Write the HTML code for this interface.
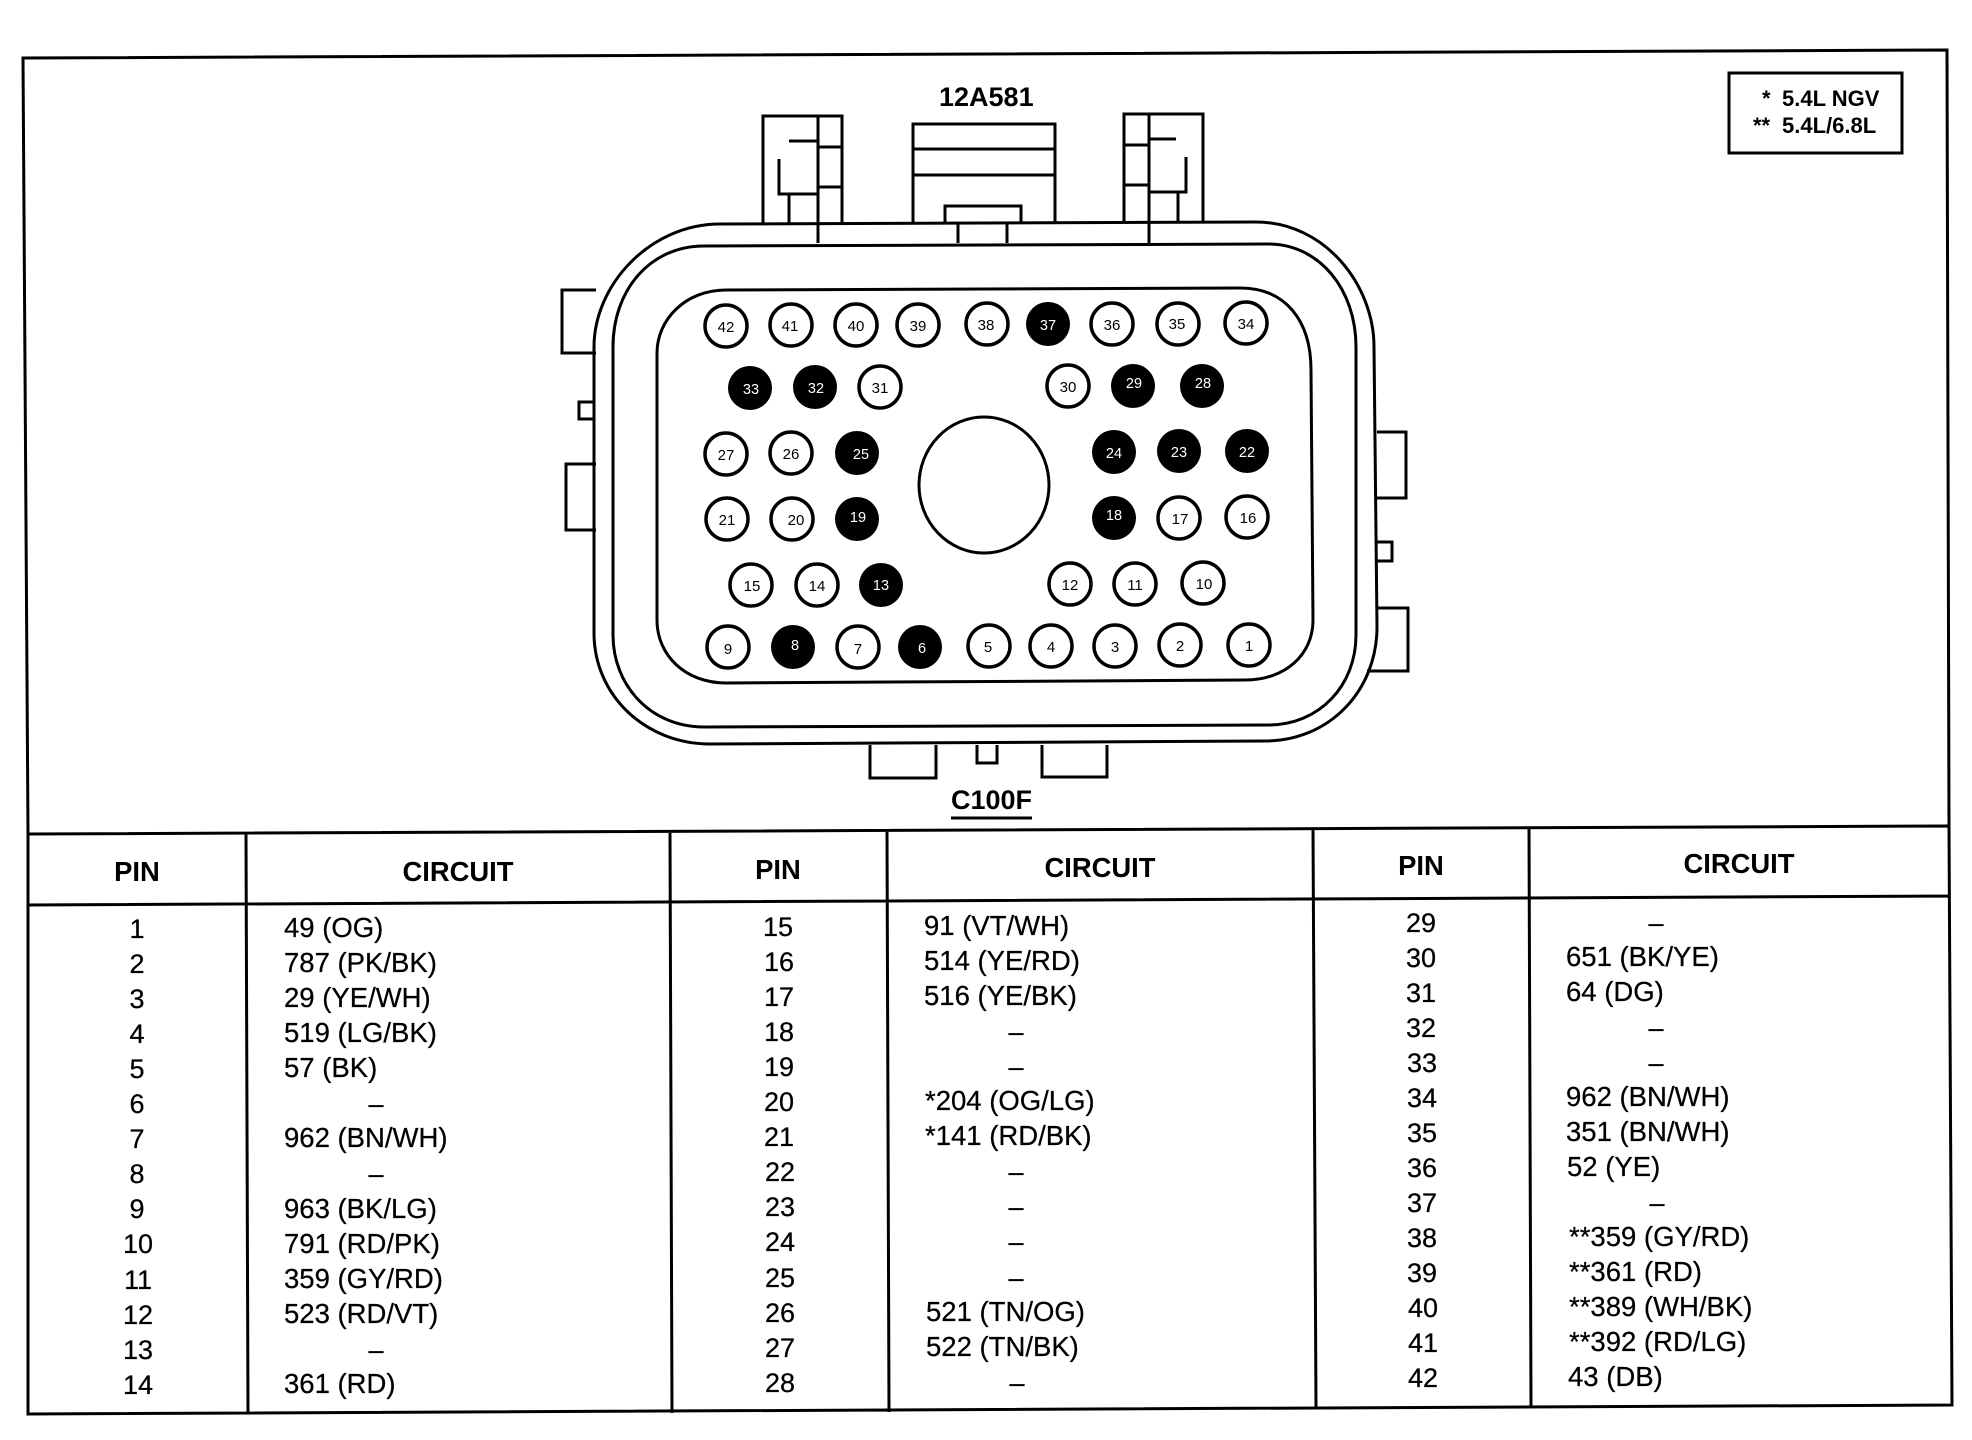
<!DOCTYPE html>
<html><head><meta charset="utf-8"><style>
html,body{margin:0;padding:0;background:#fff}
svg{display:block}
text{font-family:"Liberation Sans",sans-serif;fill:#000}
.l{stroke:#000;stroke-width:3;fill:none}
.b{font-weight:bold;font-size:27px}
.h{font-weight:bold;font-size:27.4px;text-anchor:middle}
.r{font-size:27.5px;stroke:#000;stroke-width:.25}
.m{font-size:27px;text-anchor:middle;stroke:#000;stroke-width:.25}
.p{font-size:15px;text-anchor:middle}
.w{fill:#fff;font-size:14.5px}
.o{fill:#fff;stroke:#000;stroke-width:3.5}
.d{fill:#000}
</style></head><body>
<svg width="1972" height="1440" viewBox="0 0 1972 1440" xmlns="http://www.w3.org/2000/svg">
<rect width="1972" height="1440" fill="#fff"/>
<!-- frame -->
<path class="l" d="M28 834L23 58L1947 50L1949 826"/>
<!-- legend -->
<path class="l" d="M1729 73H1902V153H1729Z"/>
<text x="1762" y="106" font-weight="bold" font-size="22">*</text>
<text x="1782" y="106" font-weight="bold" font-size="22">5.4L NGV</text>
<text x="1753" y="133" font-weight="bold" font-size="22">**</text>
<text x="1782" y="133" font-weight="bold" font-size="22">5.4L/6.8L</text>
<!-- labels -->
<text class="b" x="939" y="106">12A581</text>
<text class="b" x="951" y="809">C100F</text>
<path class="l" d="M951 818H1032"/>
<!-- clips -->
<path class="l" d="M763 223V116H842V223M818 116V243M789 141H818M818 147H842M818 187H842M779 159V194H818M789 194V223"/>
<path class="l" d="M913 223V124H1055V223M913 149H1055M913 175H1055M945 223V206H1021V223M958 223V243M1007 223V243"/>
<path class="l" d="M1124 223V114H1203V222M1149 114V243M1124 145H1149M1124 185H1149M1149 139H1176M1186 157V192H1149M1178 192V222"/>
<!-- side tabs -->
<path class="l" d="M596 290H562V353H596M594 402H579V419H594M596 464H566V530H596"/>
<path class="l" d="M1377 432H1406V498H1377M1377 542H1392V561H1377M1377 608H1408V671H1367"/>
<path class="l" d="M870 745V778H936V745M977 745V763H997V745M1042 745V777H1107V745"/>
<!-- body -->
<path class="l" d="M720 224L1256 222C1325 222 1374 285 1374 347L1377 627C1377 690 1330 741 1265 741L710 744C645 744 594 695 594 633L594 347C594 285 650 224 720 224Z"/>
<path class="l" d="M704 246L1268 244C1320 244 1356 290 1356 347L1356 635C1356 685 1320 725 1268 725L704 727C650 727 613 685 613 635L613 347C613 290 650 246 704 246Z"/>
<path class="l" d="M726 290L1240 288C1285 288 1311 320 1311 370L1313 620C1313 655 1285 680 1245 680L726 683C685 683 657 655 657 620L657 353C657 320 685 290 726 290Z"/>
<ellipse class="l" cx="984" cy="485" rx="65" ry="68"/>
<!-- pins -->
<circle class="o" cx="726" cy="326" r="21"/><text class="p" x="726" y="332">42</text>
<circle class="o" cx="791" cy="325" r="21"/><text class="p" x="790" y="331">41</text>
<circle class="o" cx="856" cy="325" r="21"/><text class="p" x="856" y="331">40</text>
<circle class="o" cx="918" cy="325" r="21"/><text class="p" x="918" y="331">39</text>
<circle class="o" cx="987" cy="324" r="21"/><text class="p" x="986" y="330">38</text>
<circle class="d" cx="1048" cy="324" r="22"/><text class="p w" x="1048" y="330">37</text>
<circle class="o" cx="1112" cy="324" r="21"/><text class="p" x="1112" y="330">36</text>
<circle class="o" cx="1178" cy="324" r="21"/><text class="p" x="1177" y="329">35</text>
<circle class="o" cx="1246" cy="323" r="21"/><text class="p" x="1246" y="329">34</text>
<circle class="d" cx="750" cy="388" r="22"/><text class="p w" x="751" y="394">33</text>
<circle class="d" cx="815" cy="387" r="22"/><text class="p w" x="816" y="393">32</text>
<circle class="o" cx="880" cy="387" r="21"/><text class="p" x="880" y="393">31</text>
<circle class="o" cx="1068" cy="386" r="21"/><text class="p" x="1068" y="392">30</text>
<circle class="d" cx="1133" cy="386" r="22"/><text class="p w" x="1134" y="388">29</text>
<circle class="d" cx="1202" cy="386" r="22"/><text class="p w" x="1203" y="388">28</text>
<circle class="o" cx="726" cy="454" r="21"/><text class="p" x="726" y="460">27</text>
<circle class="o" cx="791" cy="453" r="21"/><text class="p" x="791" y="459">26</text>
<circle class="d" cx="857" cy="453" r="22"/><text class="p w" x="861" y="459">25</text>
<circle class="d" cx="1114" cy="452" r="22"/><text class="p w" x="1114" y="458">24</text>
<circle class="d" cx="1179" cy="451" r="22"/><text class="p w" x="1179" y="457">23</text>
<circle class="d" cx="1247" cy="451" r="22"/><text class="p w" x="1247" y="457">22</text>
<circle class="o" cx="727" cy="519" r="21"/><text class="p" x="727" y="525">21</text>
<circle class="o" cx="792" cy="519" r="21"/><text class="p" x="796" y="525">20</text>
<circle class="d" cx="857" cy="519" r="22"/><text class="p w" x="858" y="522">19</text>
<circle class="d" cx="1114" cy="518" r="22"/><text class="p w" x="1114" y="520">18</text>
<circle class="o" cx="1179" cy="518" r="21"/><text class="p" x="1180" y="524">17</text>
<circle class="o" cx="1247" cy="517" r="21"/><text class="p" x="1248" y="523">16</text>
<circle class="o" cx="751" cy="585" r="21"/><text class="p" x="752" y="591">15</text>
<circle class="o" cx="817" cy="585" r="21"/><text class="p" x="817" y="591">14</text>
<circle class="d" cx="881" cy="585" r="22"/><text class="p w" x="881" y="590">13</text>
<circle class="o" cx="1070" cy="584" r="21"/><text class="p" x="1070" y="590">12</text>
<circle class="o" cx="1135" cy="584" r="21"/><text class="p" x="1135" y="590">11</text>
<circle class="o" cx="1203" cy="583" r="21"/><text class="p" x="1204" y="589">10</text>
<circle class="o" cx="728" cy="647" r="21"/><text class="p" x="728" y="654">9</text>
<circle class="d" cx="793" cy="647" r="22"/><text class="p w" x="795" y="650">8</text>
<circle class="o" cx="858" cy="647" r="21"/><text class="p" x="858" y="654">7</text>
<circle class="d" cx="920" cy="647" r="22"/><text class="p w" x="922" y="653">6</text>
<circle class="o" cx="989" cy="646" r="21"/><text class="p" x="988" y="652">5</text>
<circle class="o" cx="1051" cy="646" r="21"/><text class="p" x="1051" y="652">4</text>
<circle class="o" cx="1115" cy="646" r="21"/><text class="p" x="1115" y="652">3</text>
<circle class="o" cx="1180" cy="645" r="21"/><text class="p" x="1180" y="651">2</text>
<circle class="o" cx="1249" cy="645" r="21"/><text class="p" x="1249" y="651">1</text>
<!-- table -->
<path class="l" d="M28 834L1949 826L1952 1405L28 1414ZM28 905L1949 896M246 834L248 1414M670 833L672 1413M887 832L889 1412M1313 829L1316 1408M1529 827L1531 1406"/>
<text class="h" x="137" y="881">PIN</text><text class="h" x="458" y="881">CIRCUIT</text>
<text class="h" x="778" y="879">PIN</text><text class="h" x="1100" y="877">CIRCUIT</text>
<text class="h" x="1421" y="875">PIN</text><text class="h" x="1739" y="873">CIRCUIT</text>
<!-- column A -->
<text class="m" x="137" y="938">1</text><text class="r" x="284" y="937">49 (OG)</text>
<text class="m" x="137" y="973">2</text><text class="r" x="284" y="972">787 (PK/BK)</text>
<text class="m" x="137" y="1008">3</text><text class="r" x="284" y="1007">29 (YE/WH)</text>
<text class="m" x="137" y="1043">4</text><text class="r" x="284" y="1042">519 (LG/BK)</text>
<text class="m" x="137" y="1078">5</text><text class="r" x="284" y="1077">57 (BK)</text>
<text class="m" x="137" y="1113">6</text><text class="m" x="376" y="1113">–</text>
<text class="m" x="137" y="1148">7</text><text class="r" x="284" y="1147">962 (BN/WH)</text>
<text class="m" x="137" y="1183">8</text><text class="m" x="376" y="1183">–</text>
<text class="m" x="137" y="1218">9</text><text class="r" x="284" y="1218">963 (BK/LG)</text>
<text class="m" x="138" y="1253">10</text><text class="r" x="284" y="1253">791 (RD/PK)</text>
<text class="m" x="138" y="1289">11</text><text class="r" x="284" y="1288">359 (GY/RD)</text>
<text class="m" x="138" y="1324">12</text><text class="r" x="284" y="1323">523 (RD/VT)</text>
<text class="m" x="138" y="1359">13</text><text class="m" x="376" y="1359">–</text>
<text class="m" x="138" y="1394">14</text><text class="r" x="284" y="1393">361 (RD)</text>
<!-- column B -->
<text class="m" x="778" y="936">15</text><text class="r" x="924" y="935">91 (VT/WH)</text>
<text class="m" x="779" y="971">16</text><text class="r" x="924" y="970">514 (YE/RD)</text>
<text class="m" x="779" y="1006">17</text><text class="r" x="924" y="1005">516 (YE/BK)</text>
<text class="m" x="779" y="1041">18</text><text class="m" x="1016" y="1041">–</text>
<text class="m" x="779" y="1076">19</text><text class="m" x="1016" y="1076">–</text>
<text class="m" x="779" y="1111">20</text><text class="r" x="925" y="1110">*204 (OG/LG)</text>
<text class="m" x="779" y="1146">21</text><text class="r" x="925" y="1145">*141 (RD/BK)</text>
<text class="m" x="780" y="1181">22</text><text class="m" x="1016" y="1181">–</text>
<text class="m" x="780" y="1216">23</text><text class="m" x="1016" y="1216">–</text>
<text class="m" x="780" y="1251">24</text><text class="m" x="1016" y="1251">–</text>
<text class="m" x="780" y="1287">25</text><text class="m" x="1016" y="1287">–</text>
<text class="m" x="780" y="1322">26</text><text class="r" x="926" y="1321">521 (TN/OG)</text>
<text class="m" x="780" y="1357">27</text><text class="r" x="926" y="1356">522 (TN/BK)</text>
<text class="m" x="780" y="1392">28</text><text class="m" x="1017" y="1392">–</text>
<!-- column C -->
<text class="m" x="1421" y="932">29</text><text class="m" x="1656" y="932">–</text>
<text class="m" x="1421" y="967">30</text><text class="r" x="1566" y="966">651 (BK/YE)</text>
<text class="m" x="1421" y="1002">31</text><text class="r" x="1566" y="1001">64 (DG)</text>
<text class="m" x="1421" y="1037">32</text><text class="m" x="1656" y="1037">–</text>
<text class="m" x="1422" y="1072">33</text><text class="m" x="1656" y="1072">–</text>
<text class="m" x="1422" y="1107">34</text><text class="r" x="1566" y="1106">962 (BN/WH)</text>
<text class="m" x="1422" y="1142">35</text><text class="r" x="1566" y="1141">351 (BN/WH)</text>
<text class="m" x="1422" y="1177">36</text><text class="r" x="1567" y="1176">52 (YE)</text>
<text class="m" x="1422" y="1212">37</text><text class="m" x="1657" y="1212">–</text>
<text class="m" x="1422" y="1247">38</text><text class="r" x="1569" y="1246">**359 (GY/RD)</text>
<text class="m" x="1422" y="1282">39</text><text class="r" x="1569" y="1281">**361 (RD)</text>
<text class="m" x="1423" y="1317">40</text><text class="r" x="1569" y="1316">**389 (WH/BK)</text>
<text class="m" x="1423" y="1352">41</text><text class="r" x="1569" y="1351">**392 (RD/LG)</text>
<text class="m" x="1423" y="1387">42</text><text class="r" x="1568" y="1386">43 (DB)</text>
</svg>
</body></html>
